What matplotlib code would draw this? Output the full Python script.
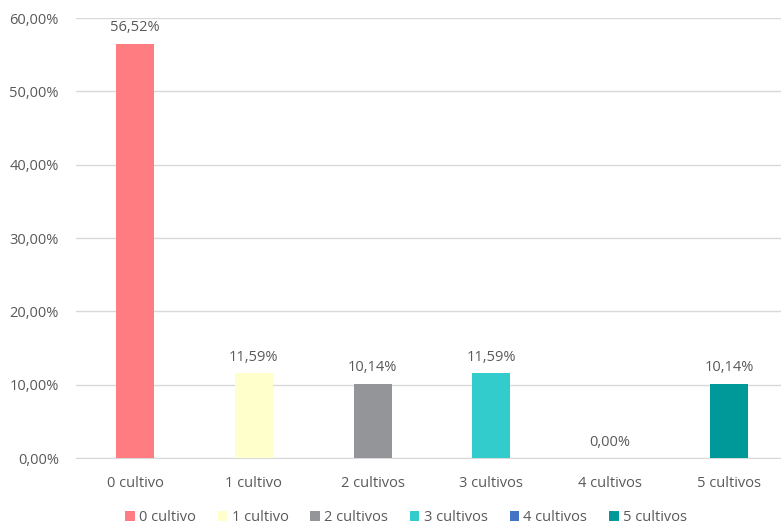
import matplotlib.pyplot as plt
from matplotlib.patches import Patch
from matplotlib.ticker import FuncFormatter

# datos
categorias = ["0 cultivo", "1 cultivo", "2 cultivos", "3 cultivos", "4 cultivos", "5 cultivos"]
porcentajes = [56.52, 11.59, 10.14, 11.59, 0.00, 10.14]
colores = ["#FF7C80", "#FFFFCC", "#939598", "#33CCCC", "#4472C4", "#009999"]

TEXTO = "#595959"
FS = 10.5
plt.rcParams["font.family"] = ["Open Sans", "DejaVu Sans"]

fig = plt.figure(figsize=(7.81, 5.25), dpi=100)
ax = fig.add_axes([0.0968, 0.1276, 0.9127, 0.838])

x = range(len(categorias))
barras = ax.bar(x, porcentajes, width=0.32, color=colores, zorder=3)

# etiquetas de datos
for b, v in zip(barras, porcentajes):
    ax.annotate(f"{v:.2f}%".replace(".", ","),
                (b.get_x() + b.get_width() / 2, v),
                xytext=(0, 6), textcoords="offset points",
                ha="center", va="bottom", fontsize=FS, color=TEXTO)

ax.set_xlim(-0.5, len(categorias) - 0.5)
ax.set_ylim(0, 60)
ax.set_yticks(range(0, 61, 10))
ax.yaxis.set_major_formatter(FuncFormatter(lambda v, p: f"{v:.2f}%".replace(".", ",")))
ax.set_xticks(list(x))
ax.set_xticklabels(categorias)

ax.grid(axis="y", color="#D9D9D9", linewidth=1, zorder=0)
for s in ["top", "right", "left"]:
    ax.spines[s].set_visible(False)
ax.spines["bottom"].set_color("#D9D9D9")
ax.tick_params(axis="both", length=0, colors=TEXTO, labelsize=FS)
ax.tick_params(axis="x", pad=13)
ax.tick_params(axis="y", pad=12)

handles = [Patch(facecolor=c, label=l) for c, l in zip(colores, categorias)]
fig.legend(handles=handles, loc="lower center", bbox_to_anchor=(0.52, -0.025), ncol=6,
           frameon=False, fontsize=FS, labelcolor=TEXTO, handlelength=0.65,
           handleheight=0.65, handletextpad=0.3, columnspacing=1.5)

fig.savefig("out.png", dpi=100)
